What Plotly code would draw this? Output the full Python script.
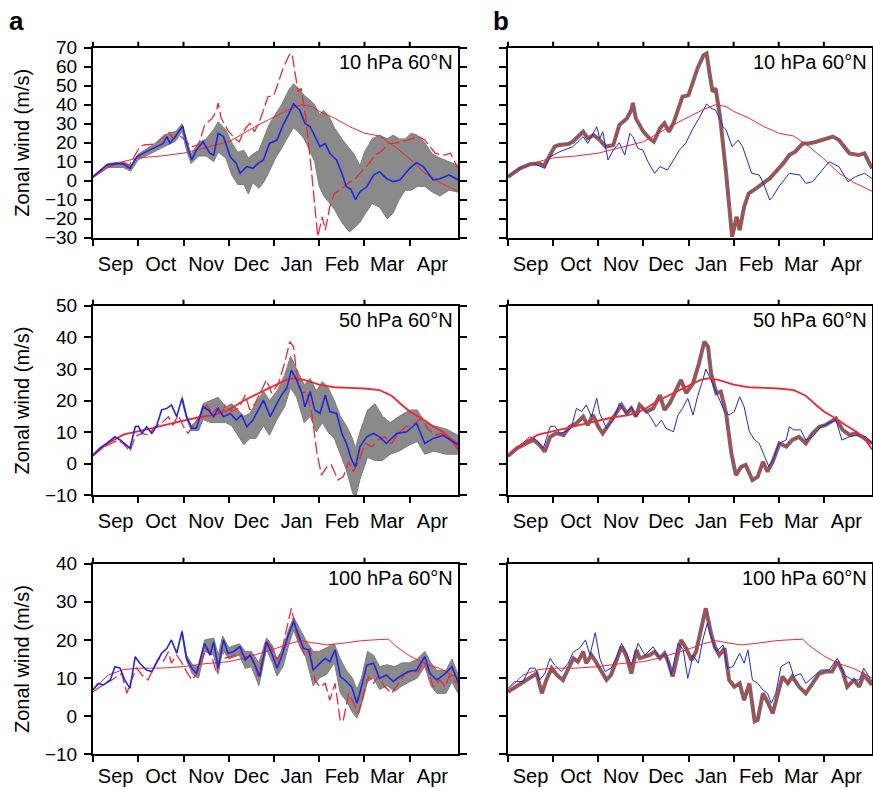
import plotly.graph_objects as go

# ---------------- axis labels ----------------
MONTHS = ["Sep", "Oct", "Nov", "Dec", "Jan", "Feb", "Mar", "Apr"]
MONTH_START = [0, 30, 60, 90, 120, 150, 180, 210]
MONTH_MID = [15, 45, 75, 105, 135, 165, 195, 225]
DAY_END = 242
TOP_TICKS_ALL = [0, 30, 60, 90, 120, 150, 180, 210]
TOP_TICKS_HALF = [0, 60, 120, 180]

# ---------------- 10 hPa ----------------
clim10_d = [0, 10, 20, 30, 45, 60, 70, 80, 90, 100, 110, 120, 130, 138, 145, 150, 160, 170, 180, 190, 200, 210, 220, 230, 242]
clim10_v = [2, 7, 10, 12, 13, 14.5, 16.5, 18.5, 20.5, 25, 29.5, 33.5, 37.5, 40, 39, 36.5, 33, 28.5, 25, 23.5, 18, 11.5, 4, -1, -5.5]

obs10_d = [0, 8, 15, 21, 24, 28, 31, 34, 40, 43, 48, 50, 53, 57, 61, 65, 70, 74, 79, 82, 83, 85, 90, 94, 97, 101, 104, 107, 110, 113,
           116, 120, 123, 126, 130, 132, 134, 136, 138, 141, 145, 149, 152, 154, 157, 160, 165, 169, 174, 178, 183, 187, 191, 196, 200, 205,
           209, 216, 220, 227, 233, 237, 242]
obs10_v = [2, 6.5, 8.8, 9.1, 7.9, 13.5, 17.9, 18.8, 19.3, 20.5, 24, 25.8, 22.3, 24, 21.4, 17.9, 18.8, 29.3, 32.8, 37.2, 41, 32.8, 25.8, 22.3,
           20.5, 27.5, 30.2, 25.8, 30.2, 37.2, 44.2, 45, 52.1, 59.1, 66.1, 67, 56.5, 46.8, 48.6, 33.7, 3.9, -29.5, -19, -26, -13.7, -6.7,
           -4, -1.4, 1.2, 4.7, 9.1, 13.5, 15.3, 19.6, 19.6, 20.5, 21.4, 23.2, 21.4, 14.4, 13.5, 14.4, 6.5]

mean10_d = [0, 9, 16, 20, 24.5, 29, 35.5, 42, 46.5, 49, 51, 54.5, 59.5, 62, 65.5, 68.5, 73, 77.5, 80, 83, 86.5, 91, 95, 97.5, 102, 106,
            109.5, 113, 117, 122, 126, 129.5, 133, 137, 140.5, 144, 147, 150.5, 154, 157, 161.5, 165, 168, 171, 174, 177, 181.5, 186,
            190, 194.5, 199, 203.5, 210, 214.5, 219, 225.5, 230, 236, 242]
mean10_v = [2.1, 8.2, 9.1, 8.8, 6.5, 12.6, 15.3, 17.9, 19.6, 23.2, 19.6, 23.2, 28.8, 19.6, 10.9, 16.1, 20.5, 14.4, 13.5, 24.9, 23.2, 12.6,
            9.1, 3.9, 7.4, 6.5, 9.1, 10.9, 19.6, 21.4, 29.3, 34.6, 40.4, 37.2, 30.2, 28.4, 23.2, 17.9, 19.6, 14.4, 10.9, 3.9, -3.2, -4.5,
            -10, -5.8, -3.2, 3, 4.7, 1.2, -0.5, 0.4, 6.5, 9.5, 7.4, 0.4, 1, 3, 0.5]

member10_d = [0, 8, 17, 24.5, 28, 34.5, 43, 50, 53, 59, 61, 63, 66.5, 70, 74, 77.6, 81, 83, 86.4, 89.7, 93, 97.5, 101, 106, 110, 114,
              118, 123, 127, 132, 135, 138, 143, 145, 149, 153, 156, 162, 167, 170, 174, 176, 180, 187, 194, 198, 202.5, 207, 213.5,
              220, 226, 231, 237, 242]
member10_v = [2, 6.5, 9.1, 6.5, 12.6, 15.3, 17.9, 23.2, 19.6, 28.4, 22.3, 25.8, 10.9, 16.1, 20, 13.5, 24.9, 23.2, 17, 16.1, 10, 3.9,
              7.4, 5.6, 10.9, 16.1, 19.6, 27.5, 32.8, 40.4, 38.1, 37.2, 28.4, 26.7, 17.9, 21.4, 17.9, 3.9, 3, -1.6, -10.2, -8.4, -3.2,
              3.9, 3, -1.4, -0.5, 3.9, 10, 7.4, -0.5, 2.1, 3.9, 1.2]

ens10_d = [0, 10, 20, 25, 30, 40, 50, 55, 59, 62, 65, 70, 75, 80, 83, 88, 92, 96, 100, 103, 106, 110, 113, 117, 121, 125, 130, 133, 137,
           140, 143, 147, 150, 153, 157, 160, 165, 170, 173, 177, 180, 185, 190, 195, 199, 203, 207, 211, 215, 220, 225, 230, 236, 242]
ens10_hi = [2.5, 9, 10, 8, 14, 19, 25, 26, 30, 22, 14, 20, 22, 27, 31, 27, 20, 15, 16, 12, 14, 16, 22, 30, 35, 40, 48, 51, 48, 45, 43,
            40, 35, 37, 33, 28, 22, 17, 14, 8, 15, 22, 24, 22, 24, 22, 22, 25, 24, 20, 14, 12, 10, 8]
ens10_lo = [1.5, 7, 7, 5, 11, 15, 19, 21, 26, 16, 9, 13, 13, 10, 15, 12, 3, -2, -2, -7, -1, -4, -1, 5, 12, 17, 24, 28, 25, 22, 17, 10,
            -3, -8, -12, -15, -22, -27, -25, -22, -18, -12, -14, -20, -17, -10, -5, -5, -3, -3, -6, -8, -5, -6]

# ---------------- 50 hPa ----------------
clim50_d = [0, 10, 20, 30, 40, 50, 60, 70, 80, 90, 100, 110, 120, 128, 133, 140, 150, 160, 170, 180, 190, 198, 205, 210, 218, 225,
            232, 237, 242]
clim50_v = [2.7, 6.5, 9.2, 10.2, 11.3, 12.5, 13.7, 14.7, 15.4, 17, 20, 22.3, 24.5, 26.5, 27, 26.5, 25, 24.2, 24, 23.8, 23.3, 21.5,
            18.5, 16.5, 14.3, 12, 10, 8, 4.5]

obs50_d = [0, 6, 12, 17, 21, 24.5, 28, 32, 37, 41, 45.5, 50, 53, 56.5, 60, 63, 67.5, 72, 75.5, 79, 82, 85, 87.5, 92, 96.5, 101, 104,
           107.5, 112, 115, 118.5, 123, 127, 130.5, 133, 135, 138.5, 141.5, 145, 148.5, 151.5, 155, 158, 162.5, 166, 169.5, 172.5, 176,
           180.5, 185, 189, 193.5, 198, 202.5, 207, 211, 218, 222.5, 227, 231, 235.5, 242]
obs50_v = [2.4, 4.9, 6.4, 7.5, 5.9, 3.8, 8.5, 9.6, 9.1, 11.7, 12.8, 14.9, 12.2, 15.4, 11.7, 9.6, 12.8, 15.9, 18.6, 15.9, 17.5, 14.9,
           18.6, 16.5, 17.5, 21.7, 17, 19.1, 23.3, 26.5, 22.3, 25.4, 31.8, 38.6, 37, 28.6, 22.3, 22.8, 15.9, 3.3, -3.6, -1, -0.4, -5.2,
           -4.1, 0.6, -2.5, 0.6, 6.4, 5.4, 7.5, 8.5, 6.4, 9.6, 11.7, 12.2, 14.3, 10.7, 9.1, 9.6, 8.5, 6.4]

mean50_d = [0, 4.5, 9, 14.5, 18, 24.5, 28, 30, 32.5, 35.5, 39, 42, 45.5, 49, 52, 55.5, 59, 62, 65.5, 68.5, 73, 76.5, 80, 83, 86.5, 91,
            95, 98.5, 102, 106, 113, 117.5, 122, 125, 128.5, 131.5, 135, 138.5, 140.5, 144, 147, 150.5, 154, 157, 161.5, 165, 168,
            171.5, 174, 177, 181.5, 186, 190, 194.5, 201.5, 208, 214.5, 220, 225.5, 232, 237, 242]
mean50_v = [2.7, 4.9, 6.4, 8.5, 7.5, 4.9, 11.7, 11.9, 9.6, 11.7, 9.6, 11.7, 17, 17.5, 18.6, 14.9, 20.7, 14.9, 11.2, 11.2, 18, 17, 14.9,
            17.5, 14.9, 15.9, 13.8, 15.4, 11.7, 13.8, 20.1, 14.9, 19.1, 21.7, 24, 29.6, 26.5, 22.3, 18, 22.8, 17, 15.9, 21.7, 16.5, 15.9,
            9.6, 6.4, 1.2, -1, 5.4, 8.5, 9.6, 8.5, 6.4, 9.6, 10.1, 12.8, 6.4, 8, 9, 7.5, 6]

member50_d = [0, 6, 14.5, 19, 23.5, 28, 31, 34.5, 38, 42, 45.5, 49, 52, 55.5, 59, 61, 65.5, 70, 74, 78.5, 82, 85, 90, 94, 98.5, 102,
              105, 110, 113, 116, 119.5, 123, 126, 129.5, 131.5, 135, 137, 140.5, 144, 147, 150.5, 154, 157, 160.5, 164, 167, 170.5,
              173.5, 177, 180, 185, 187, 190, 194.5, 198, 202.5, 208, 213.5, 218, 222, 227, 233, 238, 242]
member50_v = [2.4, 4.9, 8.5, 7.5, 4.9, 11.7, 11.9, 9.6, 10.1, 11.2, 17.5, 16.5, 18.6, 14.9, 20.7, 15.9, 11.2, 13.8, 19.1, 15.9, 18,
              14.9, 17.5, 15.4, 11.7, 13.8, 11.2, 10.1, 15.4, 17.5, 20.7, 15.4, 21.2, 26.5, 29.9, 26.5, 24.4, 20.7, 16.5, 15.4, 16.5,
              21.2, 18, 10.1, 7.5, 6.4, 2.2, -1, 2.2, 6.4, 7.5, 11.7, 10.7, 10.7, 7.5, 8.5, 11.7, 12.8, 13.8, 7.5, 8.5, 9.1, 8.5, 6.4]

ens50_d = [59, 62, 65, 70, 73, 78, 83, 88, 92, 96, 100, 104, 108, 113, 117, 122, 127, 131, 135, 140, 144, 148, 152, 156, 160, 164, 168,
           172, 174, 177, 182, 187, 192, 197, 203, 210, 215, 220, 226, 234, 242]
ens50_hi = [21.5, 15.5, 12, 14, 19, 20, 21, 18, 19, 17, 15, 16, 19, 23, 20, 23, 28, 34, 30, 25, 27, 23, 26, 24, 20, 15, 12, 8, 5, 10,
            17, 19, 15, 13, 15, 17, 17, 13, 12, 11, 9]
ens50_lo = [20, 14.5, 10.5, 10.5, 14, 13, 13, 13, 12, 9, 6, 8, 8, 12, 9, 14, 18, 24, 21, 13, 15, 10, 13, 10, 8, 3, -2, -9, -11, -5, 2,
            1, 1, 3, 4, 6, 7, 3, 4, 3, 3]

# ---------------- 100 hPa ----------------
clim100_d = [0, 10, 20, 30, 45, 60, 75, 90, 100, 110, 120, 130, 138, 145, 155, 165, 178, 190, 196, 200, 210, 220, 230, 242]
clim100_v = [7, 10.8, 12.2, 12.6, 12.6, 13, 13.8, 14.3, 15.2, 16.3, 17.6, 19, 19.8, 19.3, 18.7, 19.1, 19.8, 20.1, 20.2, 18.6, 15.8,
             13.8, 12.5, 10]

obs100_d = [0, 3.5, 8, 12.5, 17, 19, 22.5, 25.5, 29, 32.5, 36.5, 40, 43.5, 46.5, 50, 52, 55.5, 59, 62, 65.5, 68.5, 72, 75.5, 78.5, 82,
            85.5, 87.5, 91, 94, 97.5, 101, 104, 106.5, 109.5, 113, 115, 118.5, 122, 125, 128.5, 131.5, 135, 137.5, 140.5, 144, 147,
            150.5, 154, 157, 160.5, 164, 166, 169.5, 172.5, 176, 179.5, 182.5, 186, 189, 193.5, 198, 202.5, 207, 211.5, 215.5, 219,
            222.5, 225.5, 230, 233.5, 236.5, 242]
obs100_v = [6.4, 7.3, 8.6, 9.5, 10.8, 11.2, 6, 9.5, 12.6, 10.8, 9.5, 12.6, 15.2, 14.3, 16.9, 13.9, 16, 13.9, 11.7, 9.5, 10.8, 14.7,
            18.2, 16, 11.2, 17.4, 15.2, 15.6, 16, 16.9, 15.2, 16.5, 14.3, 10.4, 16.5, 20, 17.8, 14.7, 16.9, 22.6, 28.3, 21.7, 18.2, 16,
            17.8, 9.5, 7.7, 8.6, 4.2, 8.6, -1.4, -1, 6, 3.8, 0.7, 6, 10.4, 8.6, 10.4, 7.7, 6, 8.6, 11.2, 11.7, 11.7, 14.3, 11.7, 7.7,
            9.5, 7.7, 10.8, 8.2]

mean100_d = [0, 3.5, 7, 11.5, 14.5, 18, 21, 24.5, 28, 31, 35.5, 39, 42, 45.5, 49, 52, 55.5, 59, 62, 65.5, 68.5, 74, 77.5, 80, 83,
             86.5, 89.5, 93, 97.5, 101, 104, 107.5, 110.5, 115, 118.5, 122, 125, 129.5, 133, 136, 139.5, 143, 146, 150.5, 154, 157,
             160.5, 164, 168, 171.5, 175, 178, 181.5, 186, 190, 194.5, 199, 203.5, 209, 214.5, 220, 223.5, 228, 233, 238, 242]
mean100_v = [6.9, 8.6, 8.2, 9.5, 13, 12.6, 9.5, 7.3, 15.6, 13.9, 12.1, 11.7, 13.9, 16.5, 17.8, 20, 16.5, 22.2, 15.2, 12.6, 11.2, 19.1,
             16, 19.5, 12.6, 20, 16.5, 16.9, 18.2, 14.7, 16, 13.4, 10.4, 19.5, 16.5, 12.6, 15.6, 21.3, 24.8, 21.3, 17.8, 17.4, 12.1,
             13.9, 15.2, 14.3, 17.4, 10.4, 9.1, 7.7, 3.4, 7.7, 13.4, 13.9, 9.9, 10.8, 9.1, 10.4, 11.7, 12.1, 15.6, 11.2, 9.5, 11, 13, 9]

member100_d = [0, 4.5, 10, 14.5, 18, 21, 24.5, 28, 31, 35.5, 40, 43.5, 47.5, 51.5, 54.5, 58, 61, 64.5, 68.5, 72, 75.5, 78.5, 82, 86.5,
               91, 96.5, 101, 105, 108.5, 113, 116.5, 119.5, 123, 126.5, 129.5, 132.5, 135, 138.5, 143, 146, 149.5, 154, 157, 159.5,
               162.5, 166, 169.5, 172.5, 175, 178, 181.5, 187, 190, 194.5, 198, 203.5, 208, 213.5, 219, 223.5, 229, 233.5, 236.5, 242]
member100_v = [7.3, 9.1, 9.1, 12.6, 12.6, 9.5, 11.2, 15.2, 13.4, 11.7, 13.9, 16.9, 17.8, 20, 16, 21.9, 15.2, 11.7, 12.6, 15.2, 19.1,
               16.9, 13.4, 19.1, 16, 18.2, 15.2, 16.5, 10.8, 19.1, 17.4, 9.9, 16, 13.9, 20, 24.4, 20.9, 16.9, 18.7, 12.6, 13, 16.5, 13.9,
               17.4, 9.5, 8.6, 6.9, 6, 3.4, 6, 13, 14.3, 10.4, 11.2, 8.6, 10.4, 12.1, 12.1, 15.2, 10.8, 9.5, 9.5, 12.6, 9.1]

ens100_d = [59, 62, 66, 70, 74, 80, 83, 86, 90, 97, 101, 105, 110, 115, 119, 122, 126, 130, 133, 137, 141, 146, 150, 155, 160, 164,
            168, 172, 175, 178, 182, 186, 190, 195, 200, 205, 210, 215, 220, 224, 228, 234, 238, 242]
ens100_hi = [22.5, 16, 13.5, 13, 20, 20.5, 16, 21, 18, 19, 17, 17, 14, 20.5, 18.5, 15, 18, 23, 26, 23, 20, 17, 17, 18, 19, 15, 12, 10,
             7, 10, 17, 16, 13, 13.5, 13, 14, 14, 15, 17, 14, 12, 12, 15, 11]
ens100_lo = [21.5, 14.5, 11, 10, 17, 16, 11, 17.5, 15, 16, 12.5, 13, 8, 17.5, 14, 10.5, 13, 19, 22.5, 18.5, 15.5, 8, 10, 11, 14, 6, 4,
             1, -0.5, 3, 9, 10, 7, 8, 6.5, 8, 9, 10, 13, 8, 6, 6, 9, 6]

# ---------------- styling ----------------
FONT = "Liberation Sans, Arial, Helvetica, sans-serif"
RED = "rgb(240,40,50)"
BLUE = "rgb(30,40,228)"
GRAY = "rgb(125,125,125)"
GRAY_FILL = "rgb(138,138,138)"
W, H = 873, 789

COLS = {"a": (93, 458), "b": (508, 872)}
ROWS = {"10": (47.7, 237.7), "50": (305.7, 495.3), "100": (563.7, 754.3)}

LEVELS = {
    "10": dict(clim=(clim10_d, clim10_v), obs=(obs10_d, obs10_v), mean=(mean10_d, mean10_v),
               member=(member10_d, member10_v), ens=(ens10_d, ens10_lo, ens10_hi),
               yr=(-30, 70), top=TOP_TICKS_ALL, clim_w=1.0, title="10 hPa 60°N", lablen=7),
    "50": dict(clim=(clim50_d, clim50_v), obs=(obs50_d, obs50_v), mean=(mean50_d, mean50_v),
               member=(member50_d, member50_v), ens=(ens50_d, ens50_lo, ens50_hi),
               yr=(-10, 50), top=TOP_TICKS_HALF, clim_w=1.8, title="50 hPa 60°N", lablen=7),
    "100": dict(clim=(clim100_d, clim100_v), obs=(obs100_d, obs100_v), mean=(mean100_d, mean100_v),
                member=(member100_d, member100_v), ens=(ens100_d, ens100_lo, ens100_hi),
                yr=(-10, 40), top=TOP_TICKS_HALF, clim_w=1.0, title="100 hPa 60°N", lablen=3),
}

fig = go.Figure()
layout = {}
shapes = []
annotations = []

i = 0
for lev in ["10", "50", "100"]:
    L = LEVELS[lev]
    for col in ["a", "b"]:
        i += 1
        xn = "x" if i == 1 else f"x{i}"
        yn = "y" if i == 1 else f"y{i}"
        kw = dict(xaxis=xn, yaxis=yn, mode="lines", hoverinfo="skip", showlegend=False)
        if col == "a":
            d, lo, hi = L["ens"]
            fig.add_trace(go.Scatter(x=d, y=lo, line=dict(color=GRAY, width=1), **kw))
            fig.add_trace(go.Scatter(x=d, y=hi, line=dict(color=GRAY, width=1), fill="tonexty",
                                     fillcolor=GRAY_FILL, **kw))
            fig.add_trace(go.Scatter(x=L["clim"][0], y=L["clim"][1], line=dict(color=RED, width=L["clim_w"]), **kw))
            fig.add_trace(go.Scatter(x=L["obs"][0], y=L["obs"][1],
                                     line=dict(color=RED, width=1.3, dash="12px,4px"), **kw))
            fig.add_trace(go.Scatter(x=L["mean"][0], y=L["mean"][1], line=dict(color=BLUE, width=1.6), **kw))
        else:
            fig.add_trace(go.Scatter(x=L["obs"][0], y=L["obs"][1], line=dict(color="rgb(110,110,110)", width=4), **kw))
            fig.add_trace(go.Scatter(x=L["obs"][0], y=L["obs"][1],
                                     line=dict(color=RED, width=1.2, dash="10px,2px"), **kw))
            fig.add_trace(go.Scatter(x=L["member"][0], y=L["member"][1], line=dict(color=BLUE, width=1), **kw))
            fig.add_trace(go.Scatter(x=L["clim"][0], y=L["clim"][1], line=dict(color=RED, width=L["clim_w"]), **kw))

        x0, x1 = COLS[col]
        y0, y1 = ROWS[lev]
        layout["xaxis" if i == 1 else f"xaxis{i}"] = dict(
            domain=[x0 / W, x1 / W], anchor=yn, range=[0, DAY_END], automargin=False,
            tickmode="array", tickvals=MONTH_MID, ticktext=MONTHS,
            ticks="outside", ticklen=L["lablen"], tickcolor="rgba(0,0,0,0)",
            minor=dict(tickmode="array", tickvals=MONTH_START, ticks="outside",
                       ticklen=6, tickwidth=2, tickcolor="black"),
            showline=True, linecolor="black", linewidth=2, mirror=True,
            showgrid=False, zeroline=False,
            tickfont=dict(family=FONT, size=20, color="black"),
        )
        yr = L["yr"]
        layout["yaxis" if i == 1 else f"yaxis{i}"] = dict(
            domain=[1 - y1 / H, 1 - y0 / H], anchor=xn, range=list(yr), automargin=False,
            tickmode="array", tickvals=list(range(yr[0], yr[1] + 1, 10)),
            ticks="outside", ticklen=7, tickwidth=2, tickcolor="black",
            showline=True, linecolor="black", linewidth=2, mirror="ticks",
            showgrid=False, zeroline=False, showticklabels=(col == "a"),
            ticklabelstandoff=3,
            tickfont=dict(family=FONT, size=19, color="black"),
        )
        # top tick marks
        for t in L["top"]:
            shapes.append(dict(type="line", xref=f"{xn} domain", yref=f"{yn} domain",
                               x0=t / DAY_END, x1=t / DAY_END, y0=1, y1=1 + 6 / (y1 - y0),
                               line=dict(color="black", width=2)))
        annotations.append(dict(text=L["title"], xref="paper", yref="paper",
                                x=(x1 - 3) / W, y=1 - (y0 + 14) / H, xanchor="right", yanchor="middle",
                                showarrow=False, font=dict(family=FONT, size=20, color="black")))
        if col == "a":
            annotations.append(dict(text="Zonal wind (m/s)", xref="paper", yref="paper",
                                    x=22 / W, y=1 - (y0 + y1) / 2 / H, textangle=-90,
                                    xanchor="center", yanchor="middle", showarrow=False,
                                    font=dict(family=FONT, size=20, color="black")))

annotations.append(dict(text="<b>a</b>", xref="paper", yref="paper", x=16 / W, y=1 - 21 / H,
                        xanchor="center", yanchor="middle", showarrow=False,
                        font=dict(family=FONT, size=26, color="black")))
annotations.append(dict(text="<b>b</b>", xref="paper", yref="paper", x=501 / W, y=1 - 21 / H,
                        xanchor="center", yanchor="middle", showarrow=False,
                        font=dict(family=FONT, size=26, color="black")))

fig.update_layout(**layout)
fig.update_layout(template="none", width=W, height=H, margin=dict(l=0, r=0, t=0, b=0, autoexpand=False),
                  paper_bgcolor="white", plot_bgcolor="white",
                  shapes=shapes, annotations=annotations, showlegend=False,
                  hovermode=False, font=dict(family=FONT, color="black"))
fig.write_html("out.html", config={"displayModeBar": False, "staticPlot": True},
               post_script="document.body.style.margin='0px';")
